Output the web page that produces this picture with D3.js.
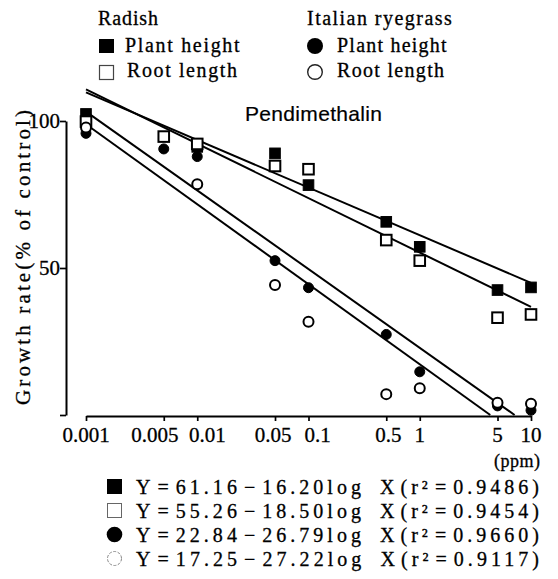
<!DOCTYPE html>
<html><head><meta charset="utf-8">
<script src="https://cdn.jsdelivr.net/npm/d3@7"></script>
<style>body{margin:0;background:#fff}svg{display:block}text{stroke:#000;stroke-width:0.3px}</style>
</head><body><svg id="c" width="558" height="579"></svg>
<script>
// ---- data ----
const concentrations = [0.001, 0.005, 0.01, 0.05, 0.1, 0.5, 1, 5, 10];
const xTickLabels = ["0.001", "0.005", "0.01", "0.05", "0.1", "0.5", "1", "5", "10"];
const yTicks = [0, 50, 100];
const yTickLabels = ["", "50", "100"];
const crops = ["Radish", "Italian ryegrass"];
const seriesNames = ["Plant height", "Root length", "Plant height", "Root length"];
const radishHeight   = [102.4, null, 91.2, 89.0, 78.2, 65.7, 57.2, 42.5, 43.4];
const radishRoot     = [99.8, 94.7, 92.2, 84.7, 83.6, 59.5, 52.5, 33.1, 34.2];
const ryegrassHeight = [95.8, 90.5, 87.9, 52.5, 43.3, 27.4, 14.7, 3.1, 1.6];
const ryegrassRoot   = [97.8, null, 78.5, 44.2, 31.7, 7.1, 9.1, 4.2, 3.8];
const intercepts = [61.16, 55.26, 22.84, 17.25];
const slopes     = [16.20, 18.50, 26.79, 27.22];
const r2Labels   = ["0.9486", "0.9454", "0.9660", "0.9117"];
const title = "Pendimethalin";
const yTitle = "Growth rate(% of control)";
const unitLabel = "(ppm)";

const seriesValues = [radishHeight, radishRoot, ryegrassHeight, ryegrassRoot];
const shapes = ["fsq", "osq", "fci", "oci"];

const svg = d3.select("#c");
const serif = "'Liberation Serif','Times New Roman',serif";

const x = d3.scaleLog().domain([0.001, 10]).range([86, 531]);
const y = d3.scaleLinear().domain([0, 100]).range([415, 121]);

function fit(sel, target) {
  const n = sel.text().length;
  const w = sel.node().getBBox().width;
  sel.attr("letter-spacing", (target - w) / Math.max(1, n - 1));
  return sel;
}
function txt(str, xx, yy, size, target, family) {
  const t = svg.append("text").attr("x", xx).attr("y", yy)
    .attr("font-family", family || serif).attr("font-size", size)
    .attr("fill", "#000").text(str);
  if (target) fit(t, target);
  return t;
}
function marker(g, shape, cx, cy, s) {
  if (shape === "fsq" || shape === "osq") {
    g.append("rect").attr("x", cx - s).attr("y", cy - s).attr("width", 2 * s).attr("height", 2 * s)
      .attr("fill", shape === "fsq" ? "#000" : "#fff").attr("stroke", "#000").attr("stroke-width", shape === "fsq" ? 1 : 2);
  } else {
    g.append("circle").attr("cx", cx).attr("cy", cy).attr("r", s)
      .attr("fill", shape === "fci" ? "#000" : "#fff").attr("stroke", "#000").attr("stroke-width", shape === "fci" ? 1 : 2);
  }
}

// ---- axes ----
const gx = svg.append("g").attr("transform", "translate(0,416)")
  .call(d3.axisBottom(x).tickValues(concentrations).tickSize(5).tickSizeOuter(0).tickFormat(""));
const gy = svg.append("g").attr("transform", "translate(66,0)")
  .call(d3.axisLeft(y).tickValues(yTicks).tickSize(6).tickSizeOuter(0).tickFormat(""));
[gx, gy].forEach(g => {
  g.select(".domain").attr("stroke", "#000").attr("stroke-width", 2);
  g.selectAll(".tick line").attr("stroke", "#000").attr("stroke-width", 1.7);
});

const labelShift = {"0.005": -9, "0.01": 10, "0.05": -2, "0.1": 9, "0.5": 2};
concentrations.forEach((c, i) => {
  svg.append("text").attr("x", x(c) + (labelShift[xTickLabels[i]] || 0)).attr("y", 442)
    .attr("text-anchor", "middle").attr("font-family", serif).attr("font-size", 21)
    .attr("fill", "#000").text(xTickLabels[i]);
});
yTicks.forEach((v, i) => {
  if (!yTickLabels[i]) return;
  svg.append("text").attr("x", 60).attr("y", y(v) + 7).attr("text-anchor", "end")
    .attr("font-family", serif).attr("font-size", 21)
    .attr("fill", "#000").text(yTickLabels[i]);
});
txt(unitLabel, 494, 467, 18, 46);

const yt = svg.append("text").attr("transform", "translate(30,405) rotate(-90)")
  .attr("font-family", serif).attr("font-size", 21).attr("fill", "#000").text(yTitle);
fit(yt, 295);

txt(title, 245, 121, 21, 137, "'Liberation Sans',Arial,sans-serif").style("stroke-width", "0.2px");

// ---- regression lines ----
const line = d3.line().x(d => x(d[0])).y(d => y(d[1]));
intercepts.forEach((a, i) => {
  const b = slopes[i];
  const xEnd = Math.min(10, Math.pow(10, a / b));
  const pts = [[0.001, a - b * Math.log10(0.001)], [xEnd, a - b * Math.log10(xEnd)]];
  svg.append("path").attr("d", line(pts)).attr("fill", "none").attr("stroke", "#000").attr("stroke-width", 2);
});

// ---- points ----
const gp = svg.append("g");
[0, 1, 2, 3].forEach(si => {
  seriesValues[si].forEach((v, j) => {
    if (v == null) return;
    marker(gp, shapes[si], x(concentrations[j]), y(v), shapes[si][1] === "s" ? 5.3 : 5);
  });
});

// ---- top legend ----
txt(crops[0], 98, 25, 20, 60);
txt(crops[1], 307, 25, 20, 145);
svg.append("rect").attr("x", 99).attr("y", 39).attr("width", 15).attr("height", 14).attr("fill", "#000");
svg.append("rect").attr("x", 99.5).attr("y", 65.5).attr("width", 14).attr("height", 14).attr("fill", "#fff").attr("stroke", "#444").attr("stroke-width", 1.2);
txt(seriesNames[0], 125, 52, 20, 115);
txt(seriesNames[1], 127, 77, 20, 110);
svg.append("circle").attr("cx", 315).attr("cy", 46).attr("r", 8).attr("fill", "#000");
svg.append("circle").attr("cx", 315).attr("cy", 72).attr("r", 7.3).attr("fill", "#fff").attr("stroke", "#222").attr("stroke-width", 1.4);
txt(seriesNames[2], 337, 52, 20, 110);
txt(seriesNames[3], 337, 77, 20, 107);

// ---- equation legend ----
const rowBase = [494, 518, 542, 566];
intercepts.forEach((a, i) => {
  const cy = rowBase[i] - 7.5;
  if (i === 0) svg.append("rect").attr("x", 107).attr("y", cy - 7.5).attr("width", 15).attr("height", 15).attr("fill", "#000");
  if (i === 1) svg.append("rect").attr("x", 107.5).attr("y", cy - 7).attr("width", 14).attr("height", 14).attr("fill", "#fff").attr("stroke", "#666").attr("stroke-width", 1);
  if (i === 2) svg.append("circle").attr("cx", 114.5).attr("cy", cy).attr("r", 7.8).attr("fill", "#000");
  if (i === 3) svg.append("circle").attr("cx", 114.5).attr("cy", cy).attr("r", 7).attr("fill", "#fff").attr("stroke", "#888").attr("stroke-width", 1).attr("stroke-dasharray", "3,1.5");
  const parts = ["Y", "=", a.toFixed(2), "\u2212", slopes[i].toFixed(2) + "log", " X", "(r\u00b2", "=", r2Labels[i] + ")"];
  const gaps  = [0, 3, 3, 3, 3, 6, 2, 3, 3];
  const t = svg.append("text").attr("x", 136).attr("y", rowBase[i])
    .attr("font-family", serif).attr("font-size", 20).attr("fill", "#000");
  parts.forEach((p, k) => t.append("tspan").attr("dx", gaps[k]).text(p));
  fit(t, 403);
});
</script></body></html>
